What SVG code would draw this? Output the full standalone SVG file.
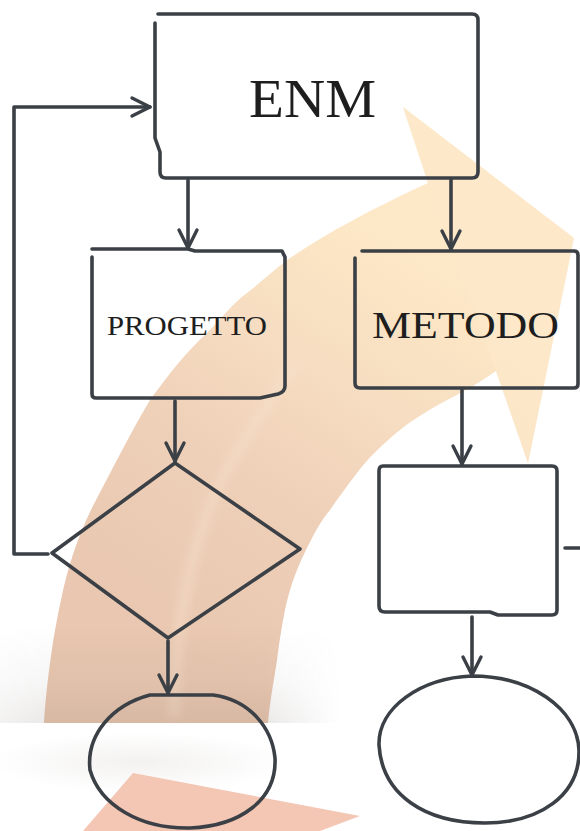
<svg xmlns="http://www.w3.org/2000/svg" width="580" height="831" viewBox="0 0 580 831">
<defs>
<style>
.ln{fill:none;stroke:#3b4046;stroke-width:3.6;stroke-linecap:round;stroke-linejoin:round}
.tx{font-family:"Liberation Serif","Times New Roman",serif;fill:#1e1e1e;text-anchor:middle}
</style>
<marker id="chev" viewBox="-22 -12 26 24" refX="0" refY="0" markerWidth="26" markerHeight="24" markerUnits="userSpaceOnUse" orient="auto">
<path d="M-18,-9 L0,0 L-18,9" fill="none" stroke="#3b4046" stroke-width="3.4" stroke-linecap="round" stroke-linejoin="round"/>
</marker>
<linearGradient id="band" gradientUnits="userSpaceOnUse" x1="170" y1="640" x2="430" y2="230">
<stop offset="0" stop-color="#e9c7b0"/>
<stop offset="0.35" stop-color="#eecfb7"/>
<stop offset="0.62" stop-color="#f6dcc1"/>
<stop offset="0.85" stop-color="#fbe5c4"/>
<stop offset="1" stop-color="#fde9c8"/>
</linearGradient>
<linearGradient id="shadeV" x1="0" y1="0" x2="0" y2="1">
<stop offset="0" stop-color="#6e625c" stop-opacity="0"/>
<stop offset="0.6" stop-color="#6e625c" stop-opacity="0.06"/>
<stop offset="1" stop-color="#6e625c" stop-opacity="0.14"/>
</linearGradient>
<linearGradient id="fadeH" gradientUnits="userSpaceOnUse" x1="0" y1="0" x2="340" y2="0">
<stop offset="0" stop-color="#fff" stop-opacity="0.6"/>
<stop offset="0.13" stop-color="#fff" stop-opacity="1"/>
<stop offset="0.78" stop-color="#fff" stop-opacity="1"/>
<stop offset="1" stop-color="#fff" stop-opacity="0"/>
</linearGradient>
<mask id="shMask"><rect x="0" y="600" width="580" height="140" fill="url(#fadeH)"/></mask>
<radialGradient id="faint" cx="0.5" cy="0.5" r="0.5">
<stop offset="0" stop-color="#e9e6e4" stop-opacity="0.55"/>
<stop offset="1" stop-color="#e9e6e4" stop-opacity="0"/>
</radialGradient>
<filter id="soft" x="-20%" y="-20%" width="140%" height="140%"><feGaussianBlur stdDeviation="4"/></filter>
</defs>
<rect width="580" height="831" fill="#ffffff"/>
<g id="background">
<path d="M44,723 C46,690 52,640 61,600 C68,565 80,530 96,500 C112,470 132,430 150,400 C168,375 188,350 207,333 C220,320 233,303 247,293 C260,283 270,273 290,258 C310,245 330,232 350,222 C375,208 400,196 428,183 L403,107 L574,238 L528,463 L496,371 C480,382 467,390 453,397 C432,408 415,418 400,430 C385,442 370,456 357,473 C347,486 338,498 330,510 C320,522 314,534 306,550 C296,570 289,590 285,610 C281,630 279,645 277,660 C274,680 270,700 268,723 Z" fill="url(#band)"/>
<path d="M403,107 L574,238 L528,463 L496,371 C470,300 445,230 428,183 Z" fill="#fdeacb" opacity="0.6"/>
<path d="M174,718 C175,670 178,630 186,590 C196,540 212,490 240,448 C258,420 276,388 296,362" fill="none" stroke="#f6e1cc" stroke-width="12" opacity="0.45" filter="url(#soft)"/>
<rect x="0" y="625" width="340" height="98" fill="url(#shadeV)" mask="url(#shMask)"/>
<ellipse cx="140" cy="762" rx="150" ry="30" fill="url(#faint)"/>
<path d="M133,773 L360,816 L320,831 L83,831 Z" fill="#f4c6b4"/>
</g>
<g id="connectors">
<path class="ln" d="M188,180 L188,248" marker-end="url(#chev)"/>
<path class="ln" d="M451,180 L451,249" marker-end="url(#chev)"/>
<path class="ln" d="M48,554 L14,554 L14,107 L150,107" marker-end="url(#chev)"/>
<path class="ln" d="M175,401 L175,461" marker-end="url(#chev)"/>
<path class="ln" d="M462,390 L462,464" marker-end="url(#chev)"/>
<path class="ln" d="M168,641 L168,693" marker-end="url(#chev)"/>
<path class="ln" d="M472,617 L472,675" marker-end="url(#chev)"/>
<path class="ln" d="M565,548 L580,548"/>
</g>
<g id="node-enm">
<path class="ln" d="M158,14 L472,14 Q478,14 478,20 L478,172 Q478,178 472,178 L166,178 Q160,178 160,172 L160,152 L155,138 L155,23"/>
<text class="tx" x="312.5" y="117" font-size="54" textLength="127" lengthAdjust="spacingAndGlyphs">ENM</text>
</g>
<g id="node-progetto">
<path class="ln" d="M92,249 L188,249 L195,251 L282,251 L285,257 L285,386 Q285,392 278,394 L260,398 L96,398 Q92,398 92,394 L92,257"/>
<text class="tx" x="187" y="335" font-size="27" textLength="160" lengthAdjust="spacingAndGlyphs">PROGETTO</text>
</g>
<g id="node-metodo">
<path class="ln" d="M362,251 L574,251 Q578,251 578,255 L578,384 Q578,388 574,388 L360,388 Q355,388 355,383 L355,258"/>
<text class="tx" x="465.5" y="338" font-size="38" textLength="187" lengthAdjust="spacingAndGlyphs">METODO</text>
</g>
<g id="node-decision">
<path class="ln" d="M175,463 L300,549 L168,638 L52,553 Z"/>
</g>
<g id="node-process">
<path class="ln" d="M383,466 L552,466 Q557,466 557,471 L557,610 Q557,615 552,615 L498,615 L490,612 L385,612 Q379,612 379,606 L379,471 Q379,466 383,466 Z"/>
</g>
<g id="node-end-left">
<path class="ln" d="M150,695 L213,695 C250,700 272,728 275,758 C277,800 240,826 190,828 C140,829 100,805 90,770 C86,735 112,705 150,695 Z"/>
</g>
<g id="node-end-right">
<path class="ln" d="M472,676 C530,676 577,708 579,750 C580,795 540,823 485,823 C425,823 382,795 379,745 C378,708 420,678 472,676 Z"/>
</g>
</svg>
